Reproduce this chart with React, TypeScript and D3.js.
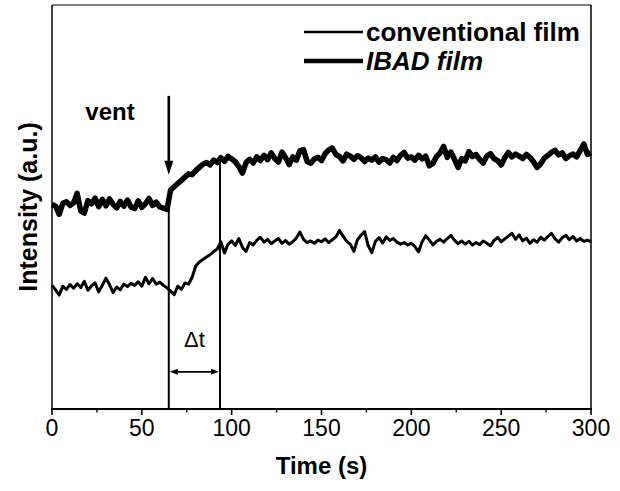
import React from "react";
import * as d3 from "d3";

const W = 620;
const H = 491;
const T_STEP = 2; // seconds between samples

// IBAD film intensity (a.u.), t = 0..300 s every 2 s
const ibadFilm = [
  50.6, 50.2, 48.2, 50.9, 51.3, 50.4, 51.0, 53.4, 49.0, 48.5,
  51.6, 50.8, 52.2, 50.1, 51.9, 50.3, 52.0, 50.6, 49.8, 51.4,
  50.2, 51.7, 50.0, 49.6, 51.5, 49.9, 50.8, 52.1, 50.4, 51.2,
  50.0, 49.7, 49.4, 54.2, 55.0, 55.8, 56.6, 57.4, 58.2, 58.0,
  59.0, 59.8, 60.6, 61.0, 60.4, 61.6, 61.0, 62.2, 61.3, 62.5,
  61.9, 61.2, 60.0, 58.4, 61.0, 61.8, 60.9, 62.4, 61.5, 62.8,
  61.7, 63.4, 62.0, 61.1, 63.6, 62.2, 60.5, 62.4, 61.6, 63.9,
  64.2, 61.3, 60.8, 61.9, 62.3, 61.5, 63.2, 64.1, 64.6, 63.0,
  62.5, 61.4, 63.1, 62.6, 61.8, 62.7, 62.2, 61.3, 62.1, 61.6,
  62.4, 61.1, 62.0, 61.7, 60.9, 62.3, 61.5, 62.8, 63.5, 62.1,
  62.4, 61.6, 62.8, 61.9, 62.6, 60.2, 60.8, 62.5, 63.4, 65.0,
  62.3, 63.6, 61.8, 59.8, 62.0, 61.4, 63.7, 62.5, 63.0, 61.8,
  60.9, 62.6, 63.2, 62.0, 61.5, 60.4, 62.2, 63.5, 62.4, 63.1,
  62.6, 62.0, 63.0, 62.3, 61.2, 59.8, 60.7, 62.1, 62.8, 63.5,
  64.0, 62.9, 63.4, 62.0, 62.7, 63.1, 62.4, 64.0, 65.6, 63.0,
  63.4,
];

// conventional film intensity (a.u.), t = 0..300 s every 2 s
const conventionalFilm = [
  30.6, 29.5, 28.2, 30.4, 29.6, 30.8, 29.9, 31.0, 30.1, 31.6,
  29.4, 30.5, 31.2, 29.0, 30.6, 32.4, 30.8, 28.8, 30.2, 29.5,
  30.9, 30.3, 31.1, 30.6, 31.5, 30.4, 32.6, 31.0, 32.3, 30.9,
  31.4, 30.6, 30.0, 29.2, 28.3, 30.4, 29.6, 31.2, 30.9, 32.6,
  35.4, 36.4, 37.0, 37.6, 38.2, 39.0, 39.6, 41.4, 38.6, 40.8,
  41.6, 40.5, 42.2, 40.0, 39.0, 41.2, 40.6, 41.8, 42.5, 41.3,
  42.0, 40.9, 41.6, 42.2, 41.0, 41.7, 40.8, 41.4, 42.3, 43.8,
  42.0, 41.2, 41.6, 41.0, 41.8, 41.4, 42.1, 41.2, 41.9, 42.6,
  44.2, 42.8, 41.5, 40.8, 39.0, 41.9, 43.0, 43.9, 40.4, 38.7,
  41.5, 42.4, 41.1, 42.6, 41.7, 42.2, 41.3, 40.8, 41.2, 40.6,
  41.0, 40.2, 38.9, 41.4, 42.9, 41.8, 40.6, 41.5, 42.0, 41.3,
  42.2, 43.0, 41.8, 40.9, 41.6, 40.8, 41.5, 40.6, 41.2, 40.7,
  41.6, 41.0, 40.4, 41.7, 42.5, 41.4, 42.1, 42.8, 43.5, 42.0,
  43.1, 41.6, 42.3, 41.0, 41.9, 41.3, 42.5, 41.8, 42.7, 43.5,
  42.1, 41.3, 42.4, 43.0, 41.9, 42.7, 41.6, 42.2, 41.5, 41.8,
  41.4,
];

const xTicks = [0, 50, 100, 150, 200, 250, 300];
const xMinorTicks = [25, 75, 125, 175, 225, 275];
const seriesNames = ["conventional film", "IBAD film"];

// annotations (time in s, level in intensity units)
const markerTimes = [65, 93.5];
const markerTops = [49.8, 61.6];
const ventTime = 65;
const ventFrom = 77.5;
const ventTo = 58.0;
const deltaLevel = 9.2;
const deltaTextLevel = 15.4;

const FONT = "'Liberation Sans', Arial, Helvetica, sans-serif";

export default function App() {
  const left = 52, right = 591, top = 5, bottom = 409;
  const x = d3.scaleLinear().domain([0, 300]).range([left, right]);
  const y = d3.scaleLinear().domain([0, 100]).range([bottom, top]);

  const line = d3
    .line<number>()
    .x((_, i) => x(i * T_STEP))
    .y((d) => y(d));

  const ventX = x(ventTime);
  const vTip = y(ventTo);
  const vStart = y(ventFrom);
  const dy = y(deltaLevel);
  const dx0 = x(markerTimes[0]);
  const dx1 = x(markerTimes[1]);

  return (
    <svg
      width={W}
      height={H}
      style={{ position: "fixed", left: 0, top: 0, background: "#fff" }}
      fontFamily={FONT}
    >
      <rect x={0} y={0} width={W} height={H} fill="#fff" />
      {/* frame */}
      <line x1={left} x2={left} y1={top} y2={bottom} stroke="#000" strokeWidth={1.5} />
      <line x1={right} x2={right} y1={top} y2={bottom} stroke="#000" strokeWidth={1.5} />
      <line x1={left} x2={right} y1={top} y2={top} stroke="#000" strokeWidth={1} />
      <line x1={left - 1} x2={right + 1} y1={bottom} y2={bottom} stroke="#000" strokeWidth={2} />
      {xTicks.map((t) => (
        <g key={"t" + t}>
          <line x1={x(t)} x2={x(t)} y1={bottom} y2={bottom + 6} stroke="#000" strokeWidth={1.6} />
          <text x={x(t)} y={bottom + 27} textAnchor="middle" fontSize={23}>
            {t}
          </text>
        </g>
      ))}
      {xMinorTicks.map((t) => (
        <line key={"m" + t} x1={x(t)} x2={x(t)} y1={bottom} y2={bottom + 3.5} stroke="#000" strokeWidth={1.4} />
      ))}
      <text x={(left + right) / 2} y={bottom + 65} textAnchor="middle" fontSize={24} fontWeight="bold">
        Time (s)
      </text>
      <text
        transform={`translate(37, ${(top + bottom) / 2}) rotate(-90)`}
        textAnchor="middle"
        fontSize={25}
        fontWeight="bold"
      >
        Intensity (a.u.)
      </text>

      {/* marker lines */}
      {markerTimes.map((t, i) => (
        <line key={"v" + i} x1={x(t)} x2={x(t)} y1={y(markerTops[i])} y2={bottom} stroke="#000" strokeWidth={2} />
      ))}

      {/* series */}
      <path d={line(conventionalFilm) || ""} fill="none" stroke="#000" strokeWidth={3} strokeLinejoin="round" />
      <path d={line(ibadFilm) || ""} fill="none" stroke="#000" strokeWidth={5.5} strokeLinejoin="round" />

      {/* vent arrow */}
      <line x1={ventX} x2={ventX} y1={vStart} y2={vTip - 10} stroke="#000" strokeWidth={2.6} />
      <polygon points={`${ventX - 4.5},${vTip - 14} ${ventX + 4.5},${vTip - 14} ${ventX},${vTip}`} fill="#000" />
      <text x={110} y={y(ventFrom) + 24} textAnchor="middle" fontSize={24} fontWeight="bold">
        vent
      </text>

      {/* delta t arrow */}
      <line x1={dx0 + 6} x2={dx1 - 6} y1={dy} y2={dy} stroke="#000" strokeWidth={1.8} />
      <polygon points={`${dx0 + 1},${dy} ${dx0 + 9},${dy - 3} ${dx0 + 9},${dy + 3}`} fill="#000" />
      <polygon points={`${dx1 - 1},${dy} ${dx1 - 9},${dy - 3} ${dx1 - 9},${dy + 3}`} fill="#000" />
      <text x={(dx0 + dx1) / 2} y={y(deltaTextLevel)} textAnchor="middle" fontSize={22}>
        Δt
      </text>

      {/* legend */}
      {seriesNames.map((name, i) => (
        <g key={name}>
          <line
            x1={304}
            x2={363}
            y1={32 + i * 29}
            y2={32 + i * 29}
            stroke="#000"
            strokeWidth={i === 0 ? 2.4 : 4.6}
          />
          <text
            x={366}
            y={41 + i * 29}
            fontSize={26}
            fontWeight="bold"
            fontStyle={i === 1 ? "italic" : "normal"}
          >
            {name}
          </text>
        </g>
      ))}
    </svg>
  );
}
